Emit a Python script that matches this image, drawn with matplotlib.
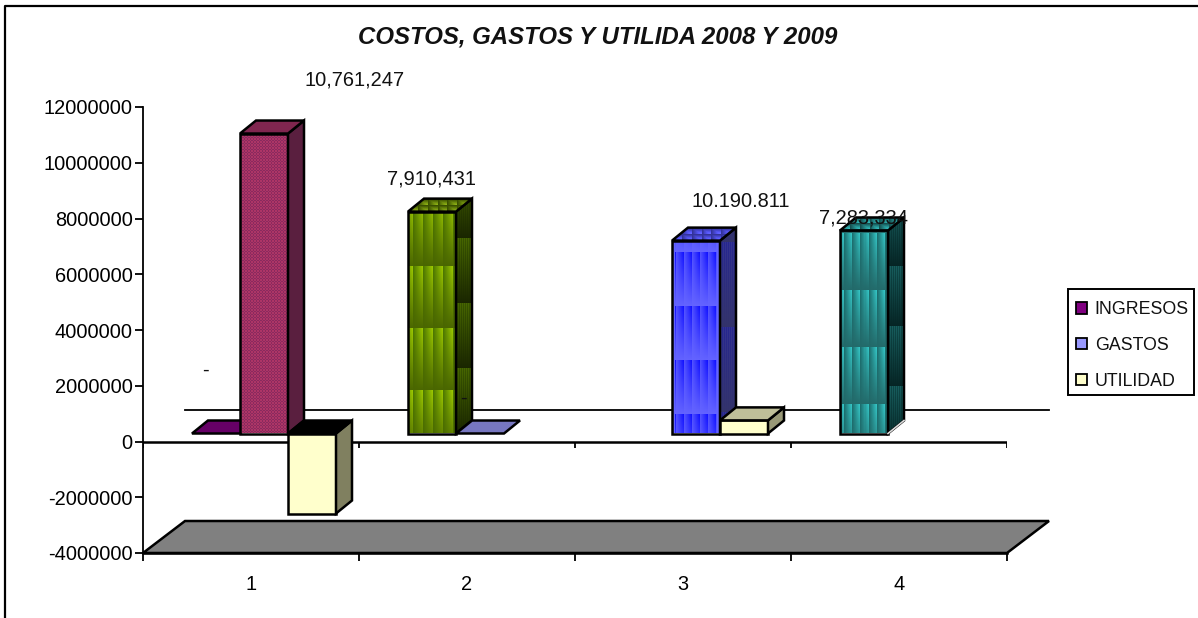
import numpy as np
import matplotlib
matplotlib.use('Agg')
import matplotlib.pyplot as plt
from matplotlib.patches import Polygon, Patch, Rectangle
from matplotlib.lines import Line2D

plt.rcParams['font.family'] = ['Liberation Sans', 'DejaVu Sans']

W, H = 1198, 618

# Values (nan = no bar)
categories = ['1', '2', '3', '4']
ingresos = [0, 7960000, np.nan, 7283334]
gastos = [10761247, 0, 6920000, np.nan]
utilidad = [-2870000, np.nan, 470000, np.nan]
series_names = ['INGRESOS', 'GASTOS', 'UTILIDAD']
legend_colors = ['#800080', '#9999ff', '#ffffcc']
y_ticks = [-4000000, -2000000, 0, 2000000, 4000000, 6000000, 8000000, 10000000, 12000000]
title = 'COSTOS, GASTOS Y UTILIDA 2008 Y 2009'
data_labels = ['10,761,247', '7,910,431', '10.190.811', '7,283,334', '-', '-']

fig = plt.figure(figsize=(W / 100, H / 100), dpi=100)
ax = fig.add_axes([143 / W, 1 - 553 / H, 864 / W, 446 / H])
ax.set_xlim(0, 4)
ax.set_ylim(-4000000, 12000000)
ax.patch.set_alpha(0)

# Sizes of one pixel in data units
px_x = 4 / 864
px_y = 16000000 / 446
bar_w = 48 * px_x
depth_x = 16 * px_x
depth_y = 13 * px_y
base = 8 * px_y
floor_x = 42 * px_x
floor_y = 32 * px_y


def hex_rgb(c):
    return np.array(matplotlib.colors.to_rgb(c))


def stripes(w, h, period, tile, phase, bright, dark, plain, margin=0):
    # striped gradient tile, stripes fade into the plain colour going down
    xs = np.arange(w)[None, :]
    ys = np.arange(h)[:, None]
    s = ((xs + period / 2) % period) / period
    t = ((ys - phase) % tile) / tile
    img = np.zeros((h, w, 3))
    for k in range(3):
        stripe = dark[k] + (bright[k] - dark[k]) * s
        img[:, :, k] = stripe + (plain[k] - stripe) * t
    if margin:
        img[:, :margin] = plain
        img[:, -margin:] = plain
    return img


def dither(w, h, c1, c2):
    xs, ys = np.meshgrid(np.arange(w), np.arange(h))
    mask = ((xs + ys) % 2 == 0) ^ ((xs // 3 + ys // 3) % 2 == 0)
    img = np.where(mask[:, :, None], hex_rgb(c1), hex_rgb(c2))
    return img


def grid_tex(w, h, bright, dark):
    xs, ys = np.meshgrid(np.arange(w), np.arange(h))
    s = (xs % 10) / 10
    t = (ys % 6) / 6
    v = np.minimum(s, t)[:, :, None]
    return hex_rgb(dark) + (hex_rgb(bright) - hex_rgb(dark)) * v * 1.6


def face(pts, z, color=None, tex=None, lw=1.8, ec='black'):
    poly = Polygon(pts, closed=True, facecolor=color if color else 'none',
                   edgecolor='none', zorder=z, clip_on=False)
    ax.add_patch(poly)
    if tex is not None:
        xa = [p[0] for p in pts]
        ya = [p[1] for p in pts]
        im = ax.imshow(tex, extent=(min(xa), max(xa), min(ya), max(ya)), aspect='auto',
                       interpolation='nearest', zorder=z, origin='upper')
        im.set_clip_path(poly)
    ax.add_patch(Polygon(pts, closed=True, facecolor='none', edgecolor=ec, clip_on=False,
                         linewidth=lw, zorder=z + 0.1, joinstyle='miter'))


def bar_3d(x0, value, z, front=None, side=None, top=None, front_tex=None, side_tex=None, top_tex=None):
    y0 = base
    y1 = base + value
    x1 = x0 + bar_w
    top_y = max(y0, y1)
    face([(x0, y0), (x1, y0), (x1, y1), (x0, y1)], z, front, front_tex)
    face([(x1, y0), (x1 + depth_x, y0 + depth_y), (x1 + depth_x, y1 + depth_y), (x1, y1)], z + 1, side, side_tex)
    face([(x0, top_y), (x1, top_y), (x1 + depth_x, top_y + depth_y), (x0 + depth_x, top_y + depth_y)],
         z + 2, top, top_tex)


def slot(cat, series):
    return cat + 0.5 + (13 - 72 + series * 48) * px_x


# Floor
face([(0, -4000000), (4, -4000000), (4 + floor_x, -4000000 + floor_y), (floor_x, -4000000 + floor_y)],
     1, '#808080')

# Zero plane back line and zero axis
ax.plot([floor_x, 4 + floor_x], [floor_y, floor_y], color='black', lw=1.3, clip_on=False, zorder=2)
ax.plot([0, 4], [0, 0], color='black', lw=1.8, zorder=2)
ax.vlines(range(5), 0, -6 * px_y, color='black', lw=1.3, zorder=2)

# Gradient textures, sized to each bar in pixels
h_g = int(ingresos[1] / px_y) + 1
h_b = int(gastos[2] / px_y) + 1
h_t = int(ingresos[3] / px_y) + 1
h_p = int(gastos[0] / px_y) + 1

green_front = stripes(48, h_g, 10, 62, 55, hex_rgb('#a4d000'), hex_rgb('#4f7a00'), hex_rgb('#4a6600'))
green_side = stripes(33, h_g + 13, 4, 65, 40, hex_rgb('#507000'), hex_rgb('#2f4a00'), hex_rgb('#1a2600'))
blue_front = stripes(48, h_b, 8, 54, 12, hex_rgb('#0a0aff'), hex_rgb('#5050ff'), hex_rgb('#6464ff'), margin=3)
blue_side = stripes(33, h_b + 13, 4, 85, 15, hex_rgb('#202090'), hex_rgb('#3a3a90'), hex_rgb('#33336b'))
teal_front = stripes(48, h_t, 8, 57, 4, hex_rgb('#38d0d0'), hex_rgb('#1c7070'), hex_rgb('#236a6a'), margin=2)
teal_side = stripes(33, h_t + 13, 4, 60, 50, hex_rgb('#1c6a6a'), hex_rgb('#0a3a3a'), hex_rgb('#062525'))
pink_front = dither(48, h_p, '#8a2a5e', '#ad3566')

# Draw the bars left to right
face([(slot(0, 0), base), (slot(0, 0) + bar_w, base), (slot(0, 0) + bar_w + depth_x, base + depth_y),
      (slot(0, 0) + depth_x, base + depth_y)], 3, '#660066')
bar_3d(slot(0, 1), gastos[0], 4, side='#5a1f3f', top='#80264f', front_tex=pink_front)
bar_3d(slot(0, 2), utilidad[0], 8, front='#ffffcc', side='#808060', top='#000000')

bar_3d(slot(1, 0), ingresos[1], 12, side='#2a3c00', top='#4f6a00', front_tex=green_front,
       side_tex=green_side, top_tex=grid_tex(65, 13, '#7a9a10', '#3a5000'))
face([(slot(1, 1), base), (slot(1, 1) + bar_w, base), (slot(1, 1) + bar_w + depth_x, base + depth_y),
      (slot(1, 1) + depth_x, base + depth_y)], 16, '#7777c0')

bar_3d(slot(2, 1), gastos[2], 20, side='#33336b', top='#4444bb', front_tex=blue_front,
       side_tex=blue_side, top_tex=grid_tex(65, 13, '#5a5aff', '#33339a'))
bar_3d(slot(2, 2), utilidad[2], 24, front='#ffffcc', side='#999977', top='#bfbf99')

bar_3d(slot(3, 0), ingresos[3], 28, side='#0a3a3a', top='#1f6a6a', front_tex=teal_front,
       side_tex=teal_side, top_tex=grid_tex(65, 13, '#2aa0a0', '#155050'))
# the teal bar's side has a pale lower edge
ax.plot([slot(3, 0) + bar_w, slot(3, 0) + bar_w + depth_x], [base, base + depth_y],
        color='#dddddd', lw=1.2, zorder=32)

ax.set_xlim(0, 4)
ax.set_ylim(-4000000, 12000000)

# Axes
for name in ['top', 'right']:
    ax.spines[name].set_visible(False)
ax.spines['left'].set_linewidth(1.3)
ax.spines['bottom'].set_linewidth(1.8)
ax.spines['left'].set_zorder(50)
ax.spines['bottom'].set_zorder(50)
ax.set_yticks(y_ticks)
ax.set_yticklabels([str(v) for v in y_ticks])
ax.set_xticks(range(5))
ax.set_xticklabels([])
ax.set_xticks([i + 0.5 for i in range(4)], minor=True)
ax.set_xticklabels(categories, minor=True)
ax.tick_params(axis='y', length=6, width=1.3, labelsize=14.4, pad=1.5, colors='black')
ax.tick_params(axis='x', which='major', length=6, width=1.3)
ax.tick_params(axis='x', which='minor', length=0, labelsize=14.4, pad=16)


def px_text(x, y, s, **kw):
    fig.text(x / W, 1 - y / H, s, ha='center', va='center', color='#111111', **kw)


# Title and value labels
px_text(598, 37, title, fontsize=17.3, fontweight='bold', fontstyle='italic')
label_px = [(355, 80), (431, 179), (741, 201), (863, 218), (205, 370), (463, 398)]
for (lx, ly), s in zip(label_px, data_labels):
    px_text(lx, ly, s, fontsize=14.4)

# Chart area border, only top and left show
fig.add_artist(Line2D([5 / W, 5 / W, 1], [0, 1 - 6 / H, 1 - 6 / H], color='black', lw=1.6))

# Legend box drawn apart so the entries can sit tight like the original
fig.add_artist(Rectangle((1068 / W, 1 - 395 / H), 126 / W, 106 / H, transform=fig.transFigure,
                         facecolor='white', edgecolor='black', linewidth=1.4, zorder=3))
handles = [Patch(facecolor=c, edgecolor='black', linewidth=1.3) for c in legend_colors]
leg = fig.legend(handles, series_names, loc='upper left', bbox_to_anchor=(1076 / W, 1 - 301 / H),
                 fontsize=12.8, frameon=False, handlelength=0.64, handleheight=0.64,
                 handletextpad=0.42, labelspacing=1.06, borderaxespad=0, borderpad=0,
                 labelcolor='#111111')
leg.set_zorder(4)

plt.savefig('out.png', dpi=100)
